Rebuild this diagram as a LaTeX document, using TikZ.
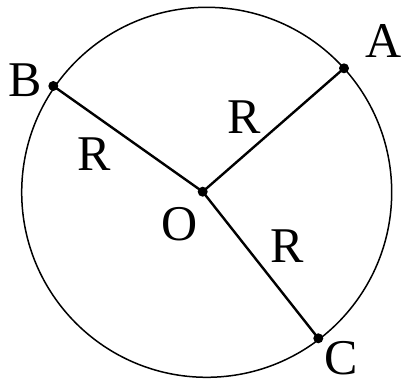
\documentclass[tikz,border=0pt]{standalone}
\usepackage{fontspec}
\setmainfont{Liberation Serif}
\begin{document}
\begin{tikzpicture}[x=1pt,y=-1pt,
  dot/.style={circle,fill=black,inner sep=0pt,minimum size=10pt},
  lbl/.style={inner sep=0pt,font=\fontsize{50}{50}\selectfont},
  radius line/.style={line width=2.4pt},
  rim/.style={line width=1.5pt}]
\useasboundingbox (0,0) rectangle (407,385);
\draw[rim] (206.7,192.3) circle[radius=185];
\node[dot] (O) at (202.7,191.7) {};
\node[dot] (A) at (344,68.3) {};
\node[dot] (B) at (53.3,86) {};
\node[dot] (C) at (318.3,338.3) {};
\draw[radius line] (O.center) -- (A.center);
\draw[radius line] (O.center) -- (B.center);
\draw[radius line] (O.center) -- (C.center);
\node[lbl] (lA) at (384,41) {A};
\node[lbl] (lB) at (25,80) {B};
\node[lbl] (lC) at (341,358) {C};
\node[lbl] (lO) at (180,224) {O};
\node[lbl] (r1) at (244,117) {R};
\node[lbl] (r2) at (94,154) {R};
\node[lbl] (r3) at (287,246) {R};
\end{tikzpicture}
\end{document}
